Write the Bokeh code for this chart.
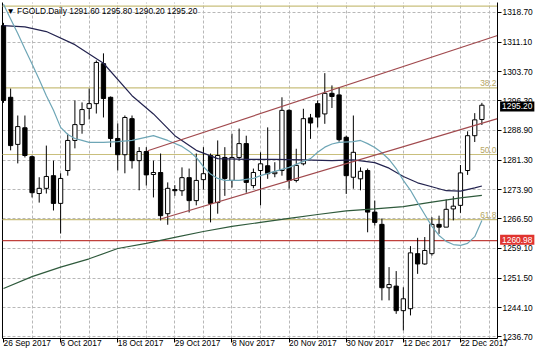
from bokeh.plotting import figure
from bokeh.models import Range1d, FixedTicker, PrintfTickFormatter, Label, ColumnDataSource, BoxAnnotation
from bokeh.embed import file_html
from bokeh.resources import INLINE

# ---------------- data ----------------
opens = [1315.3, 1297.2, 1285.3, 1289.5, 1282.2, 1272.9, 1274.2, 1277.4, 1270.4, 1278.7,
         1286.3, 1290.3, 1294.4, 1295.6, 1305.7, 1297.2, 1286.8, 1282.7, 1291.8, 1281.2,
         1283.5, 1277.7, 1278.2, 1267.8, 1273.9, 1273.6, 1276.9, 1271.1, 1276.4, 1282.5,
         1270.6, 1282.0, 1276.2, 1282.0, 1285.5, 1274.9, 1278.7, 1279.9, 1277.9, 1278.7,
         1293.9, 1276.2, 1280.4, 1292.0, 1295.6, 1293.0, 1298.2, 1297.8, 1287.1, 1277.0,
         1276.6, 1278.7, 1268.2, 1265.1, 1249.1, 1249.5, 1243.3, 1243.8, 1257.7, 1255.1,
         1257.7, 1265.1, 1264.4, 1269.0, 1269.9, 1278.7, 1287.5, 1291.6]
highs = [1316.0, 1299.4, 1292.6, 1292.6, 1282.5, 1277.0, 1285.0, 1281.2, 1278.0, 1288.0,
         1296.4, 1295.9, 1299.4, 1306.5, 1308.3, 1297.4, 1290.6, 1292.6, 1292.6, 1284.6,
         1284.6, 1281.2, 1283.0, 1275.7, 1275.0, 1279.5, 1279.2, 1283.0, 1284.6, 1283.0,
         1286.3, 1284.6, 1288.0, 1289.3, 1287.5, 1279.2, 1283.3, 1289.6, 1280.8, 1297.2,
         1294.2, 1284.2, 1294.3, 1293.0, 1296.4, 1303.3, 1300.2, 1299.8, 1287.5, 1292.6,
         1279.5, 1279.2, 1271.1, 1266.6, 1254.3, 1253.3, 1249.2, 1259.6, 1261.7, 1261.9,
         1266.9, 1267.3, 1271.4, 1272.2, 1280.1, 1288.6, 1293.2, 1295.8]
lows = [1295.8, 1283.8, 1280.5, 1282.0, 1271.9, 1270.6, 1272.9, 1268.6, 1262.8, 1277.4,
        1284.3, 1288.0, 1291.6, 1293.1, 1292.1, 1284.6, 1278.7, 1278.0, 1279.2, 1273.7,
        1274.9, 1271.9, 1266.1, 1265.0, 1272.3, 1272.3, 1268.1, 1269.9, 1273.9, 1265.6,
        1267.8, 1272.3, 1274.4, 1281.2, 1273.1, 1274.2, 1269.9, 1276.6, 1277.0, 1277.4,
        1274.1, 1275.7, 1280.0, 1286.7, 1289.6, 1290.5, 1294.5, 1286.0, 1272.8, 1274.1,
        1273.7, 1263.1, 1264.8, 1245.9, 1245.9, 1242.5, 1238.3, 1242.1, 1252.6, 1254.9,
        1257.2, 1262.7, 1264.4, 1266.1, 1268.0, 1277.6, 1285.9, 1290.2]
closes = [1296.4, 1285.0, 1289.8, 1282.5, 1273.1, 1274.2, 1277.2, 1270.4, 1276.7, 1286.3,
          1290.3, 1294.1, 1295.6, 1306.0, 1296.9, 1286.8, 1282.7, 1292.1, 1281.2, 1283.5,
          1277.6, 1278.2, 1267.3, 1274.2, 1273.6, 1276.9, 1271.1, 1276.2, 1277.9, 1270.4,
          1282.5, 1276.7, 1282.0, 1285.5, 1275.7, 1278.2, 1280.4, 1277.9, 1278.3, 1293.9,
          1276.2, 1280.0, 1291.8, 1290.7, 1292.2, 1298.2, 1297.4, 1286.5, 1277.4, 1283.3,
          1278.5, 1268.2, 1265.6, 1249.1, 1249.9, 1243.3, 1246.3, 1257.9, 1255.1, 1258.5,
          1265.1, 1264.4, 1268.9, 1269.7, 1278.1, 1287.5, 1291.5, 1295.2]

# moving averages (bar index, price)
ma_slow_x = [0, 3, 6, 10, 14, 18, 21, 24, 27, 30, 34, 38, 42, 46, 49, 52, 54, 56, 58, 60, 62, 64, 66, 67]
ma_slow_y = [1315.3, 1315.0, 1313.8, 1310.5, 1305.8, 1297.6, 1293.0, 1287.5, 1283.8, 1281.7, 1281.5, 1281.5,
             1281.4, 1281.2, 1281.4, 1280.7, 1279.3, 1277.2, 1275.6, 1274.6, 1273.6, 1273.5, 1274.3, 1274.8]
ma_fast_x = [0, 1, 2, 3, 4, 5, 6, 7, 8, 9, 10, 11, 12, 14, 16, 18, 21, 23, 25, 26, 27, 28, 29, 30, 31, 33,
             35, 36, 38, 40, 42, 43, 44, 45, 46, 47, 49, 50, 51, 52, 53, 54, 55, 56, 57, 58, 59, 60, 61,
             62, 63, 64, 65, 66, 67]
ma_fast_y = [1320.7, 1317.0, 1313.3, 1309.4, 1305.6, 1301.7, 1297.6, 1293.9, 1289.6, 1287.8, 1286.8, 1286.3,
             1285.8, 1285.8, 1286.0, 1286.3, 1287.5, 1286.3, 1284.8, 1283.6, 1282.0, 1279.7, 1277.8, 1276.7,
             1276.2, 1276.2, 1276.7, 1277.4, 1278.5, 1279.5, 1281.0, 1281.7, 1283.3, 1284.6, 1285.4, 1285.8,
             1286.0, 1286.3, 1285.5, 1284.5, 1283.2, 1281.5, 1279.2, 1276.2, 1273.7, 1270.6, 1267.6, 1264.6,
             1262.3, 1260.8, 1260.0, 1259.8, 1260.3, 1262.0, 1266.1]
ma_long_x = [0, 4, 8, 12, 16, 20, 24, 28, 32, 36, 40, 44, 48, 52, 56, 60, 64, 67]
ma_long_y = [1248.9, 1251.9, 1254.3, 1256.4, 1259.0, 1260.3, 1261.8, 1263.3, 1264.6, 1265.6, 1266.6,
             1267.6, 1268.5, 1269.0, 1269.6, 1270.7, 1271.8, 1272.4]

# channel (bar index, price)
channel_upper_x = [20.2, 69.19]
channel_upper_y = [1283.7, 1312.8]
channel_lower_x = [22.0, 69.19]
channel_lower_y = [1266.45, 1291.8]

fib_levels = [1320.25, 1299.6, 1282.75, 1266.3]
fib_names = ["", "38.2", "50.0", "61.8"]
support_level = 1260.98
last_price = 1295.20

x_tick_bars = [0, 8, 16, 24, 32, 40, 48, 56, 64]
x_tick_labels = ["26 Sep 2017", "6 Oct 2017", "18 Oct 2017", "29 Oct 2017", "8 Nov 2017",
                 "20 Nov 2017", "30 Nov 2017", "12 Dec 2017", "22 Dec 2017"]
price_ticks = [1236.70, 1244.10, 1251.50, 1259.10, 1266.50, 1273.90, 1281.30,
               1288.90, 1296.30, 1303.70, 1311.10, 1318.70]
title_text = "\u25bc FGOLD.Daily  1291.60 1295.80 1290.20 1295.20"

# ---------------- figure ----------------
FONT = "Liberation Sans"
FS = "8.4px"
# full canvas ranges
XL, XR = -0.420, 74.650
YB, YT = 1231.47, 1321.65
# chart area (inside the scales)
FX0, FX1 = -0.14, 69.19
FY0, FY1 = 1236.27, 1321.14

p = figure(width=536, height=357, output_backend="svg", toolbar_location=None,
           x_range=Range1d(XL, XR), y_range=Range1d(YB, YT),
           x_axis_location="below", y_axis_location="right",
           min_border_left=0, min_border_right=0, min_border_top=0, min_border_bottom=0)
p.background_fill_color = "white"
p.border_fill_color = "white"
p.outline_line_color = None

# grid
p.xgrid.ticker = FixedTicker(ticks=list(range(4, 69, 4)))
p.ygrid.ticker = FixedTicker(ticks=price_ticks)
for g in (p.xgrid, p.ygrid):
    g.grid_line_color = "#b8b8b8"
    g.grid_line_dash = "3 2"
    g.grid_line_width = 1
try:
    p.xgrid.cross_bounds = (FY0, FY1)
    p.ygrid.cross_bounds = (FX0, FX1)
except Exception:
    p.add_layout(BoxAnnotation(left=FX1, fill_color="white", fill_alpha=1, line_color=None, level="underlay"))
    p.add_layout(BoxAnnotation(top=FY0, fill_color="white", fill_alpha=1, line_color=None, level="underlay"))

# axes (price scale on the right, time scale at the bottom)
p.xaxis.fixed_location = FY0
p.yaxis.fixed_location = FX1
p.xaxis.bounds = (FX0, FX1)
p.yaxis.bounds = (FY0, FY1)
p.xaxis.ticker = FixedTicker(ticks=x_tick_bars)
p.xaxis.major_label_overrides = {b: l for b, l in zip(x_tick_bars, x_tick_labels)}
p.xaxis.major_label_orientation = -0.0001
p.yaxis.ticker = FixedTicker(ticks=price_ticks)
p.yaxis.formatter = PrintfTickFormatter(format="%.2f")
for ax in (p.xaxis, p.yaxis):
    ax.axis_line_color = "black"
    ax.major_tick_line_color = "black"
    ax.minor_tick_line_color = None
    ax.major_tick_in = 0
    ax.major_tick_out = 4
    ax.major_label_text_font = FONT
    ax.major_label_text_font_size = FS
    ax.major_label_text_color = "black"
p.xaxis.major_label_standoff = 1
p.yaxis.major_label_standoff = 1

# left border
p.line([FX0, FX0], [FY0, FY1], line_color="black", line_width=1)

# fibonacci levels
for lvl in fib_levels:
    p.line([FX0, FX1], [lvl, lvl], line_color="#c9bf7c", line_width=1.2)
for lvl, name in zip(fib_levels, fib_names):
    if name:
        p.add_layout(Label(x=69.05, y=lvl + 0.35, text=name, text_align="right", text_baseline="bottom",
                           text_font=FONT, text_font_size=FS, text_color="#b5a663"))

# support line
p.line([FX0, FX1], [support_level, support_level], line_color="#c0403c", line_width=1.2)

# candles
n = len(opens)
xs = list(range(n))
src = ColumnDataSource(dict(
    x=xs, high=highs, low=lows,
    top=[max(o, c) for o, c in zip(opens, closes)],
    bottom=[min(o, c) for o, c in zip(opens, closes)],
    fill=["white" if c >= o else "black" for o, c in zip(opens, closes)],
))
p.segment(x0="x", y0="low", x1="x", y1="high", source=src, line_color="black", line_width=1)
p.vbar(x="x", width=0.6, top="top", bottom="bottom", fill_color="fill", line_color="black",
       line_width=1, source=src)

# moving averages
p.line(ma_long_x, ma_long_y, line_color="#2f5a3c", line_width=1.2)
p.line(ma_slow_x, ma_slow_y, line_color="#23234f", line_width=1.2)
p.line(ma_fast_x, ma_fast_y, line_color="#6ea6b6", line_width=1.2)

# channel
p.line(channel_upper_x, channel_upper_y, line_color="#a14a4e", line_width=1.2)
p.line(channel_lower_x, channel_lower_y, line_color="#a14a4e", line_width=1.2)

# title
p.add_layout(Label(x=0.42, y=1319.1, text=title_text, text_align="left", text_baseline="middle",
                   text_font=FONT, text_font_size="8.4px", text_color="black"))

# price boxes on the scale
p.add_layout(Label(x=69.55, y=1294.9, text="1295.20", text_align="left", text_baseline="middle",
                   text_font=FONT, text_font_size=FS, text_color="white",
                   background_fill_color="black", padding=2))
p.add_layout(Label(x=69.55, y=1261.2, text="1260.98", text_align="left", text_baseline="middle",
                   text_font=FONT, text_font_size=FS, text_color="white",
                   background_fill_color="#e0342f", padding=2))

open("out.html", "w").write(file_html(p, INLINE))
